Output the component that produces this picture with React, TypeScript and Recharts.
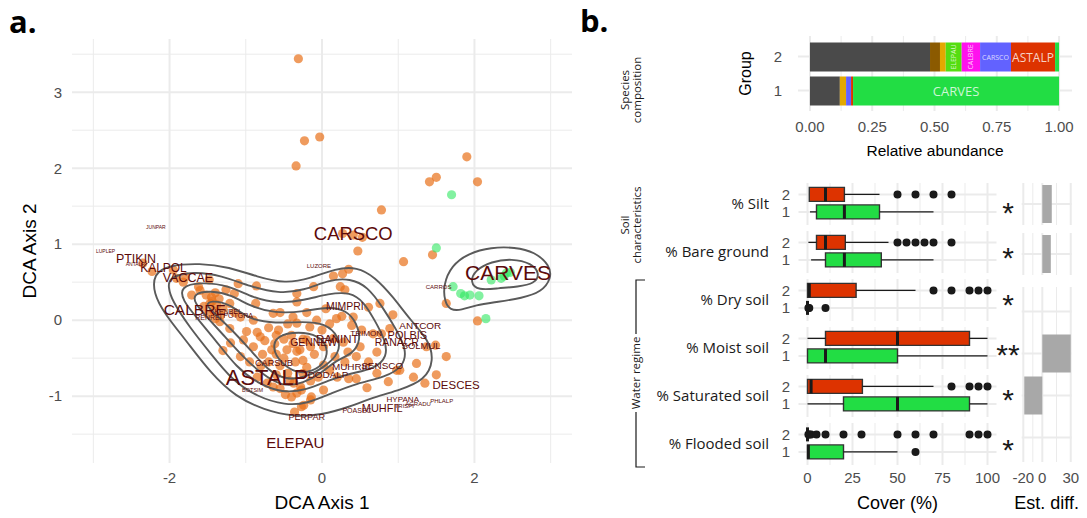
import React from 'react';
import {
  ScatterChart,
  Scatter,
  BarChart,
  Bar,
  XAxis,
  YAxis,
  CartesianGrid,
  ReferenceArea,
  ReferenceLine,
  LabelList,
} from 'recharts';

const SANS = "'Liberation Sans', Arial, sans-serif";
const OPEN = "'Open Sans', 'Noto Sans', sans-serif";
const GRID = '#EBEBEB';
const TICK = '#4D4D4D';
const RED = '#DD3300';
const GREEN = '#22DD44';

// ---- panel a: DCA site scores ----
const group2Sites = [
  [-0.31, 3.44], [-0.23, 2.36], [-0.03, 2.41], [-0.34, 2.03], [1.9, 2.15], [1.41, 1.82],
  [1.5, 1.88], [2.04, 1.82], [0.78, 1.45], [0.27, 1.14], [0.41, 1.12], [0.53, 1.09],
  [0.47, 0.91], [1.45, 0.86], [1.07, 0.77], [1.63, 0.22], [2.04, -0.01],
  [-2.35, 0.75], [-2.23, 0.64], [-1.95, 0.66], [-1.91, 0.55], [-1.82, 0.5], [-1.79, 0.57],
  [-1.62, 0.44], [-1.71, 0.33], [-1.6, 0.39], [-1.48, 0.53], [-1.26, 0.4], [-1.1, 0.48],
  [-0.86, 0.45],
  [-1.52, 0.33], [-1.45, 0.3], [-1.4, 0.36], [-1.47, 0.22], [-1.38, 0.2], [-1.42, 0.12],
  [-1.5, 0.08], [-1.35, 0.28], [-1.3, 0.15], [-1.44, 0.25], [-1.55, 0.18], [-1.33, 0.06],
  [-1.4, 0.02], [-1.21, 0.22], [-1.34, -0.02], [-1.21, -0.11], [-1.07, 0.04], [-0.99, -0.15],
  [-1.03, -0.26], [-0.87, 0.22], [-0.64, 0.09], [-1.15, 0.1],
  [-0.81, -0.22], [-0.85, -0.16], [-0.75, -0.27], [-1.07, -0.48], [-0.66, -0.39], [-0.62, -0.31],
  [-0.46, -0.39], [-0.57, -0.13], [-0.38, 0.04], [-0.33, -0.04], [-0.33, -0.41], [-0.35, -0.55],
  [-0.72, -0.83], [-0.64, -0.88], [-0.33, -0.96], [-0.37, -0.83], [-0.33, 0.35], [-0.9, -0.35],
  [-0.78, -0.45], [-0.7, -0.55], [-0.55, -0.6], [-0.5, -0.5], [-0.45, -0.7], [-0.6, -0.72],
  [-0.8, -0.6], [-0.95, -0.55], [-0.85, -0.75], [-0.55, -0.9], [-0.48, -0.98], [-0.25, -0.7],
  [-0.2, -0.62], [-0.15, -0.8], [-0.28, -0.88], [-0.42, -0.8], [-0.6, -0.2], [-0.5, -0.25],
  [-0.7, -0.1], [-0.45, -0.05], [-0.25, -0.25], [-0.4, -0.2],
  [0.35, 0.67], [0.27, 0.61], [0.15, 0.58], [-0.11, 0.44], [0.24, 0.44], [0.3, 0.4],
  [-0.33, 0.24], [0.76, 0.22], [0.61, 0.17], [0.93, 0.07], [0.89, -0.11], [-0.07, 0.0],
  [0.19, 0.02], [0.26, 0.05], [0.41, 0.04], [0.39, -0.07], [0.52, -0.13], [0.67, -0.18],
  [0.78, -0.18], [-0.16, -0.09], [0.0, -0.13], [0.15, -0.24], [0.28, -0.29], [0.34, -0.42],
  [0.17, -0.48], [0.02, -0.35], [0.45, -0.48], [0.61, -0.55], [0.72, -0.42], [0.72, -0.7],
  [0.87, -0.81], [1.02, -0.66], [1.24, -0.57], [1.37, -0.35], [1.35, -0.83], [1.5, -0.72],
  [1.63, -0.48], [0.59, -0.89], [0.45, -0.77], [0.35, -0.77],
  [0.02, -0.92], [-0.14, -1.01], [-0.27, -0.92], [-0.4, -1.01], [-0.27, -1.14], [0.1, -0.66],
  [0.02, -0.59], [-0.25, -0.53], [-0.29, -0.39], [-0.2, -0.26], [-0.38, -0.31], [-0.36, -1.21],
  [-0.24, -1.12], [-0.15, -1.05], [1.2, -0.75], [1.49, -0.33], [0.98, -0.66],
  [-0.2, 0.1], [0.05, 0.15], [0.1, -0.05], [-0.1, -0.45], [-0.15, -0.35], [0.2, -0.75], [0.3, -0.55],
  [0.5, -0.35], [-0.6, -0.45], [-0.05, -0.75], [-0.55, 0.1], [-0.9, 0.0], [-1.2, -0.3],
  [-1.15, 0.35], [-1.3, -0.4],
];

const group1Sites = [
  [1.7, 1.65], [1.5, 0.95], [1.72, 0.44], [1.82, 0.35], [1.87, 0.32], [1.94, 0.33], [2.06, 0.32],
  [2.22, 0.53], [2.35, 0.55], [2.39, 0.58], [2.42, 0.62], [2.47, 0.63], [2.15, 0.02],
];

// density contours, group 2 (outer -> inner)
const contourA1 = [
  [-2.21, 0.61], [-2.02, 0.72], [-1.6, 0.75], [-1.22, 0.7], [-0.85, 0.57], [-0.48, 0.48], [-0.15, 0.55],
  [0.18, 0.68], [0.46, 0.7], [0.69, 0.57], [0.93, 0.31], [1.16, 0.0], [1.4, -0.26], [1.47, -0.53],
  [1.35, -0.79], [1.02, -0.92], [0.69, -1.01], [0.37, -1.14], [-0.01, -1.25], [-0.38, -1.27],
  [-0.76, -1.18], [-1.13, -1.01], [-1.46, -0.7], [-1.79, -0.26], [-2.07, 0.09], [-2.21, 0.35],
];
const contourA2 = [
  [-2.0, 0.57], [-1.69, 0.64], [-1.32, 0.59], [-0.94, 0.44], [-0.57, 0.35], [-0.24, 0.39], [0.09, 0.53],
  [0.37, 0.55], [0.6, 0.44], [0.79, 0.18], [0.98, -0.13], [1.11, -0.39], [1.07, -0.61], [0.83, -0.75],
  [0.46, -0.83], [0.13, -0.96], [-0.2, -1.1], [-0.48, -1.12], [-0.85, -1.01], [-1.18, -0.79],
  [-1.46, -0.44], [-1.74, -0.09], [-1.97, 0.26], [-2.02, 0.44],
];
const contourA3 = [
  [-1.86, 0.44], [-1.6, 0.5], [-1.22, 0.46], [-0.9, 0.29], [-0.57, 0.22], [-0.24, 0.26], [0.09, 0.35],
  [0.37, 0.37], [0.55, 0.24], [0.69, 0.0], [0.83, -0.26], [0.86, -0.48], [0.69, -0.64], [0.37, -0.7],
  [0.09, -0.79], [-0.2, -0.92], [-0.52, -0.96], [-0.85, -0.83], [-1.13, -0.61], [-1.36, -0.31],
  [-1.65, 0.04], [-1.83, 0.26],
];
const contourA4 = [
  [-1.69, 0.35], [-1.46, 0.39], [-1.18, 0.33], [-0.94, 0.18], [-0.62, 0.09], [-0.24, 0.11], [0.09, 0.18],
  [0.32, 0.13], [0.46, -0.04], [0.51, -0.26], [0.41, -0.44], [0.18, -0.53], [-0.01, -0.7], [-0.24, -0.83],
  [-0.52, -0.88], [-0.8, -0.7], [-1.04, -0.48], [-1.27, -0.22], [-1.51, 0.04], [-1.67, 0.22],
];
const contourA5 = [
  [-1.46, 0.26], [-1.22, 0.22], [-0.94, 0.0], [-0.62, -0.04], [-0.24, -0.02], [0.04, -0.04], [0.23, -0.22],
  [0.23, -0.44], [0.04, -0.61], [-0.2, -0.75], [-0.48, -0.79], [-0.71, -0.66], [-0.94, -0.39],
  [-1.18, -0.13], [-1.41, 0.09], [-1.53, 0.2],
];
const contourA6 = [
  [-0.6, -0.2], [-0.3, -0.15], [-0.05, -0.2], [0.08, -0.35], [0.05, -0.55], [-0.12, -0.68],
  [-0.35, -0.7], [-0.55, -0.55], [-0.65, -0.38],
];
// density contours, group 1
const contourB1 = [
  [1.61, 0.24], [1.59, 0.46], [1.7, 0.72], [1.92, 0.88], [2.22, 0.96], [2.53, 0.96], [2.79, 0.9],
  [2.99, 0.72], [3.01, 0.55], [2.88, 0.37], [2.62, 0.29], [2.31, 0.24], [2.01, 0.2], [1.83, 0.13], [1.68, 0.13],
];
const contourB2 = [
  [1.94, 0.5], [2.01, 0.66], [2.22, 0.77], [2.49, 0.81], [2.75, 0.75], [2.86, 0.61], [2.79, 0.48],
  [2.57, 0.44], [2.31, 0.42], [2.05, 0.39],
];

// species scores: name, axis 1, axis 2, relative weight (label size)
const speciesNames = [
  'ASTALP', 'CARVES', 'CARSCO', 'CALBRE', 'ELEPAU', 'PTIKIN', 'KALPOL', 'VACCAE', 'DESCES', 'MUHFIL',
  'DANINT', 'POLBIS', 'MIMPRI', 'GENNEW', 'RANACR', 'ANTCOR', 'MUHRIC', 'SENSCO', 'DODALP', 'SOLMUL',
  'CARSUB', 'PERPAR', 'TRIMON', 'HYPANA', 'POASEC', 'KENBEL', 'RENREI', 'POTGRA', 'LUZORE', 'CARROS',
  'PHLALP', 'AGRADU', 'TRISPI', 'BOTSIM', 'JUNPAR', 'LUPLEP', 'ANTALP',
];
const speciesX = [
  -0.72, 2.44, 0.41, -1.67, -0.35, -2.44, -2.08, -1.76, 1.76, 0.79,
  0.2, 1.12, 0.3, -0.11, 0.98, 1.29, 0.39, 0.79, 0.08, 1.3,
  -0.63, -0.2, 0.58, 1.06, 0.46, -1.23, -1.49, -1.1, -0.04, 1.53,
  1.57, 1.26, 1.08, -0.91, -2.18, -2.84, -2.45,
];
const speciesY = [
  -0.75, 0.63, 1.14, 0.14, -1.61, 0.8, 0.68, 0.56, -0.86, -1.16,
  -0.25, -0.2, 0.18, -0.3, -0.3, -0.07, -0.61, -0.6, -0.71, -0.33,
  -0.57, -1.27, -0.18, -1.05, -1.19, 0.11, 0.04, 0.06, 0.71, 0.43,
  -1.06, -1.1, -1.13, -0.92, 1.23, 0.91, 0.74,
];
const speciesWeight = [
  1.0, 0.94, 0.79, 0.62, 0.59, 0.44, 0.41, 0.44, 0.38, 0.35,
  0.38, 0.35, 0.32, 0.32, 0.32, 0.29, 0.29, 0.29, 0.29, 0.26,
  0.24, 0.24, 0.18, 0.18, 0.12, 0.12, 0.12, 0.12, 0.06, 0.06,
  0.06, 0.06, 0.06, 0.03, 0.0, 0.0, 0.0,
];

// ---- panel b: species composition ----
const compGroups = ['2', '1'];
const compOther = [0.482, 0.12];
const compSpA = [0.04, 0];
const compSpB = [0.023, 0.025];
const compELEPAU = [0.064, 0];
const compCALBRE = [0.074, 0];
const compCARSCO = [0.124, 0.02];
const compASTALP = [0.177, 0.008];
const compCARVES = [0.016, 0.827];

// ---- panel b: environmental variables (lo whisker, q1, median, q3, hi whisker) ----
const envVars = ['% Silt', '% Bare ground', '% Dry soil', '% Moist soil', '% Saturated soil', '% Flooded soil'];
const group2Stats = [
  [1, 1, 10, 20.5, 40],
  [0.5, 5, 10, 21, 45],
  [0, 0, 1, 27, 60],
  [0, 10, 50, 90, 100],
  [0, 0, 2, 30.5, 70],
  [0, 0, 0, 0, 0],
];
const group1Stats = [
  [1.4, 5, 20.5, 40, 70],
  [2, 10, 20.5, 41, 70],
  [0, 0, 0, 0, 0],
  [0, 0, 10, 50, 100],
  [0, 20, 50, 90, 100],
  [0, 0, 0.5, 20, 50],
];
const group2Outliers = [
  [50, 60, 70, 80],
  [50, 55, 60, 65, 70, 80],
  [70, 80, 90, 95, 100],
  [],
  [80, 90, 95, 100],
  [0.5, 1, 2, 5, 10, 20, 30, 50, 60, 70, 90, 95, 100],
];
const group1Outliers = [[], [], [0.5, 1, 10], [], [], [60]];
const signif = ['*', '*', '*', '**', '*', '*'];
const diffLow = [0, 0, null, 0, -19, null];
const diffHigh = [10, 9, null, 30, 0, null];

const toPts = (arr: number[][]) => arr.map(([x, y]) => ({ x, y }));

const tickStyle = { fill: TICK, fontSize: 15, fontFamily: SANS };

const orangeDot = (p: any) => <circle cx={p.cx} cy={p.cy} r={4.6} fill="#E8711A" fillOpacity={0.7} />;
const greenDot = (p: any) => <circle cx={p.cx} cy={p.cy} r={4.6} fill="#2EE860" fillOpacity={0.6} />;
const noDot = () => <g />;

const PanelA = () => {
  const labels = speciesNames.map((name, i) => ({ x: speciesX[i], y: speciesY[i], name, w: speciesWeight[i] }));
  const contours = [contourA1, contourA2, contourA3, contourA4, contourA5, contourA6, contourB1, contourB2];
  const xDom = [-3.28, 3.28];
  const yDom = [-1.88, 3.7];
  return (
    <ScatterChart width={590} height={518} margin={{ top: 39, right: 18, bottom: 0, left: 12 }}>
      <CartesianGrid xAxisId="m" yAxisId="m" stroke={GRID} strokeWidth={1} syncWithTicks />
      <CartesianGrid stroke={GRID} strokeWidth={2} syncWithTicks />
      <XAxis type="number" dataKey="x" domain={xDom} allowDataOverflow ticks={[-2, 0, 2]} interval={0}
        height={55} axisLine={false} tickLine={false} tickMargin={3} tick={tickStyle} />
      <XAxis xAxisId="m" type="number" dataKey="x" domain={xDom} allowDataOverflow ticks={[-3, -1, 1, 3]} hide />
      <YAxis type="number" dataKey="y" domain={yDom} allowDataOverflow ticks={[-1, 0, 1, 2, 3]} interval={0}
        width={60} axisLine={false} tickLine={false} tickMargin={4} tick={tickStyle} />
      <YAxis yAxisId="m" type="number" dataKey="y" domain={yDom} allowDataOverflow
        ticks={[-1.5, -0.5, 0.5, 1.5, 2.5, 3.5]} hide />
      <Scatter data={toPts(group2Sites)} shape={orangeDot} isAnimationActive={false} />
      <Scatter data={toPts(group1Sites)} shape={greenDot} isAnimationActive={false} />
      {contours.map((c, i) => (
        <Scatter key={`c${i}`} data={toPts(c)} shape={noDot} line={{ stroke: '#5A5A5A', strokeWidth: 1.9 }}
          lineJointType="basisClosed" isAnimationActive={false} />
      ))}
      <Scatter
        data={labels}
        isAnimationActive={false}
        shape={(p: any) => (
          <text x={p.cx} y={p.cy} textAnchor="middle" dominantBaseline="central" fill="#5C0A0A"
            fontFamily={SANS} fontSize={5 + 17 * p.payload.w}>
            {p.payload.name}
          </text>
        )}
      />
    </ScatterChart>
  );
};

const segLabel = (name: string, row: number, size: number, rotate = false) => (p: any) => {
  if (p.index !== row) return null;
  const cx = p.x + p.width / 2;
  const cy = p.y + p.height / 2;
  return (
    <text x={cx} y={cy} textAnchor="middle" dominantBaseline="central" fill="#fff" fillOpacity={0.78}
      fontFamily={OPEN} fontSize={size} transform={rotate ? `rotate(-90 ${cx} ${cy})` : undefined}>
      {name}
    </text>
  );
};

const Composition = () => {
  const data = compGroups.map((g, i) => ({
    group: g,
    other: compOther[i],
    spA: compSpA[i],
    spB: compSpB[i],
    ELEPAU: compELEPAU[i],
    CALBRE: compCALBRE[i],
    CARSCO: compCARSCO[i],
    ASTALP: compASTALP[i],
    CARVES: compCARVES[i],
  }));
  const xDom = [-0.048, 1.052];
  return (
    <BarChart layout="vertical" width={320} height={160} data={data} barSize={29}
      margin={{ top: 36, right: 8, bottom: 0, left: 0 }}>
      <CartesianGrid xAxisId="m" stroke={GRID} strokeWidth={1} horizontal={false} syncWithTicks />
      <CartesianGrid stroke={GRID} strokeWidth={2} syncWithTicks />
      <XAxis type="number" domain={xDom} allowDataOverflow ticks={[0, 0.25, 0.5, 0.75, 1]} interval={0}
        tickFormatter={(v: number) => v.toFixed(2)} height={49} axisLine={false} tickLine={false}
        tickMargin={4} tick={tickStyle} />
      <XAxis xAxisId="m" type="number" domain={xDom} allowDataOverflow ticks={[0.125, 0.375, 0.625, 0.875]} hide />
      <YAxis type="category" dataKey="group" width={38} padding={{ top: 3.5, bottom: 3.5 }} axisLine={false}
        tickLine={false} tickMargin={10} tick={tickStyle} />
      <Bar dataKey="other" stackId="s" fill="#4A4A4A" isAnimationActive={false} />
      <Bar dataKey="spA" stackId="s" fill="#8B5A00" isAnimationActive={false} />
      <Bar dataKey="spB" stackId="s" fill="#E3A800" isAnimationActive={false} />
      <Bar dataKey="ELEPAU" stackId="s" fill="#55DD11" isAnimationActive={false}>
        <LabelList dataKey="ELEPAU" content={segLabel('ELEPAU', 0, 7, true)} />
      </Bar>
      <Bar dataKey="CALBRE" stackId="s" fill="#FF11EE" isAnimationActive={false}>
        <LabelList dataKey="CALBRE" content={segLabel('CALBRE', 0, 7, true)} />
      </Bar>
      <Bar dataKey="CARSCO" stackId="s" fill="#6262FF" isAnimationActive={false}>
        <LabelList dataKey="CARSCO" content={segLabel('CARSCO', 0, 7)} />
      </Bar>
      <Bar dataKey="ASTALP" stackId="s" fill={RED} isAnimationActive={false}>
        <LabelList dataKey="ASTALP" content={segLabel('ASTALP', 0, 12)} />
      </Bar>
      <Bar dataKey="CARVES" stackId="s" fill={GREEN} isAnimationActive={false}>
        <LabelList dataKey="CARVES" content={segLabel('CARVES', 1, 13)} />
      </Bar>
    </BarChart>
  );
};

const blackDot = (p: any) => <circle cx={p.cx} cy={p.cy} r={4} fill="#1A1A1A" />;

const BoxFacet = ({ i, last }: { i: number; last: boolean }) => {
  const rows = [
    { g: 2, s: group2Stats[i], out: group2Outliers[i], fill: RED },
    { g: 1, s: group1Stats[i], out: group1Outliers[i], fill: GREEN },
  ];
  const outliers = rows.flatMap((r) => r.out.map((v) => ({ x: v, y: r.g })));
  const xDom = [-5, 105];
  const hw = 0.4;
  return (
    <ScatterChart width={240} height={last ? 87 : 42} margin={{ top: 0, right: 3.5, bottom: 0, left: 0 }}>
      <CartesianGrid xAxisId="m" stroke={GRID} strokeWidth={1} horizontal={false} syncWithTicks />
      <CartesianGrid stroke={GRID} strokeWidth={2} syncWithTicks />
      <XAxis type="number" dataKey="x" domain={xDom} allowDataOverflow ticks={[0, 25, 50, 75, 100]} interval={0}
        hide={!last} height={45} axisLine={false} tickLine={false} tickMargin={1} tick={tickStyle} />
      <XAxis xAxisId="m" type="number" dataKey="x" domain={xDom} allowDataOverflow
        ticks={[12.5, 37.5, 62.5, 87.5]} hide />
      <YAxis type="number" dataKey="y" domain={[0.25, 2.65]} allowDataOverflow ticks={[1, 2]} interval={0}
        width={38.5} axisLine={false} tickLine={false} tickMargin={2.5} tick={tickStyle} />
      {rows.map((r) => [
        <ReferenceLine key={`wl${r.g}`} segment={[{ x: r.s[0], y: r.g }, { x: r.s[1], y: r.g }]}
          stroke="#1A1A1A" strokeWidth={1.3} />,
        <ReferenceLine key={`wh${r.g}`} segment={[{ x: r.s[3], y: r.g }, { x: r.s[4], y: r.g }]}
          stroke="#1A1A1A" strokeWidth={1.3} />,
        <ReferenceArea key={`b${r.g}`} x1={r.s[1]} x2={r.s[3]} y1={r.g - hw} y2={r.g + hw} fill={r.fill}
          fillOpacity={1} stroke="#333" strokeWidth={1.4} />,
        <ReferenceLine key={`m${r.g}`} segment={[{ x: r.s[2], y: r.g - hw }, { x: r.s[2], y: r.g + hw }]}
          stroke="#1A1A1A" strokeWidth={3} />,
      ])}
      <Scatter data={outliers} shape={blackDot} isAnimationActive={false} />
    </ScatterChart>
  );
};

const DiffFacet = ({ idx, height, last, pad }: { idx: number[]; height: number; last: boolean; pad: number }) => {
  const data = idx.map((k) => ({
    v: envVars[k],
    d: diffLow[k] === null ? null : [diffLow[k], diffHigh[k]],
  }));
  const xDom = [-21.7, 31];
  return (
    <BarChart layout="vertical" width={80} height={height + (last ? 45 : 0)} data={data} barSize={38}
      margin={{ top: 0, right: 8.3, bottom: 0, left: 21.7 }}>
      <CartesianGrid xAxisId="m" stroke={GRID} strokeWidth={1} horizontal={false} syncWithTicks />
      <CartesianGrid stroke={GRID} strokeWidth={2} syncWithTicks />
      <XAxis type="number" domain={xDom} allowDataOverflow ticks={[-20, 0, 30]} interval={0} hide={!last}
        height={45} axisLine={false} tickLine={false} tickMargin={4} tick={tickStyle} />
      <XAxis xAxisId="m" type="number" domain={xDom} allowDataOverflow ticks={[-10, 15]} hide />
      <YAxis type="category" dataKey="v" hide padding={{ top: pad, bottom: pad }} />
      <Bar dataKey="d" fill="#A8A8A8" isAnimationActive={false} />
    </BarChart>
  );
};

const FACET_TOPS = [183, 231, 279, 327, 375, 423];
const STAR_Y = [205, 250, 297, 347, 392, 442];

const Overlay = () => (
  <svg width={1087} height={518} style={{ position: 'absolute', left: 0, top: 0, pointerEvents: 'none' }}>
    <text x={9} y={33} fontFamily={OPEN} fontWeight={700} fontSize={31} fill="#000">a.</text>
    <text x={580} y={32} fontFamily={OPEN} fontWeight={700} fontSize={31} fill="#000">b.</text>
    <text x={322} y={509} textAnchor="middle" fontFamily={SANS} fontSize={19} fill="#000">DCA Axis 1</text>
    <text transform="translate(36 251) rotate(-90)" textAnchor="middle" fontFamily={SANS} fontSize={19} fill="#000">
      DCA Axis 2
    </text>

    <text transform="translate(751 73.5) rotate(-90)" textAnchor="middle" fontFamily={SANS} fontSize={16} fill="#000">
      Group
    </text>
    <text x={935} y={156} textAnchor="middle" fontFamily={SANS} fontSize={15.5} fill="#000">Relative abundance</text>
    <text x={897.5} y={509} textAnchor="middle" fontFamily={SANS} fontSize={18} fill="#000">Cover (%)</text>
    <text x={1046.7} y={509} textAnchor="middle" fontFamily={SANS} fontSize={18} fill="#000">Est. diff.</text>

    <text transform="translate(628.5 90) rotate(-90)" textAnchor="middle" fontFamily={OPEN} fontSize={11.5} fill="#1A1A1A">Species</text>
    <text transform="translate(641 90) rotate(-90)" textAnchor="middle" fontFamily={OPEN} fontSize={11.5} fill="#1A1A1A">composition</text>
    <text transform="translate(629 225) rotate(-90)" textAnchor="middle" fontFamily={OPEN} fontSize={11.5} fill="#1A1A1A">Soil</text>
    <text transform="translate(641 225) rotate(-90)" textAnchor="middle" fontFamily={OPEN} fontSize={11.5} fill="#1A1A1A">characteristics</text>
    <text transform="translate(640 373) rotate(-90)" textAnchor="middle" fontFamily={OPEN} fontSize={11.5} fill="#1A1A1A">Water regime</text>
    <path d="M645 280 H636 V334 M636 412 V467 H645" fill="none" stroke="#1A1A1A" strokeWidth={1.2} />

    {envVars.map((v, i) => (
      <text key={v} x={769} y={FACET_TOPS[i] + 26} textAnchor="end" fontFamily={OPEN} fontSize={15} fill="#1A1A1A">
        {v}
      </text>
    ))}
    {signif.map((s, i) => (
      <text key={`s${i}`} x={1008} y={STAR_Y[i] + 17.5} textAnchor="middle" fontFamily={SANS} fontSize={30} fill="#1A1A1A">
        {s}
      </text>
    ))}
  </svg>
);

const App: React.FC = () => (
  <div style={{ position: 'absolute', left: 0, top: 0, width: 1087, height: 518, background: '#fff', overflow: 'hidden' }}>
    <div style={{ position: 'absolute', left: 0, top: 0 }}>
      <PanelA />
    </div>
    <div style={{ position: 'absolute', left: 760, top: 0 }}>
      <Composition />
    </div>
    {envVars.map((v, i) => (
      <div key={v} style={{ position: 'absolute', left: 760, top: FACET_TOPS[i] }}>
        <BoxFacet i={i} last={i === envVars.length - 1} />
      </div>
    ))}
    <div style={{ position: 'absolute', left: 1000, top: 183 }}>
      <DiffFacet idx={[0]} height={42} last={false} pad={0} />
    </div>
    <div style={{ position: 'absolute', left: 1000, top: 233 }}>
      <DiffFacet idx={[1]} height={42} last={false} pad={0} />
    </div>
    <div style={{ position: 'absolute', left: 1000, top: 287 }}>
      <DiffFacet idx={[2, 3, 4, 5]} height={175} last pad={3.5} />
    </div>
    <Overlay />
  </div>
);

export default App;
